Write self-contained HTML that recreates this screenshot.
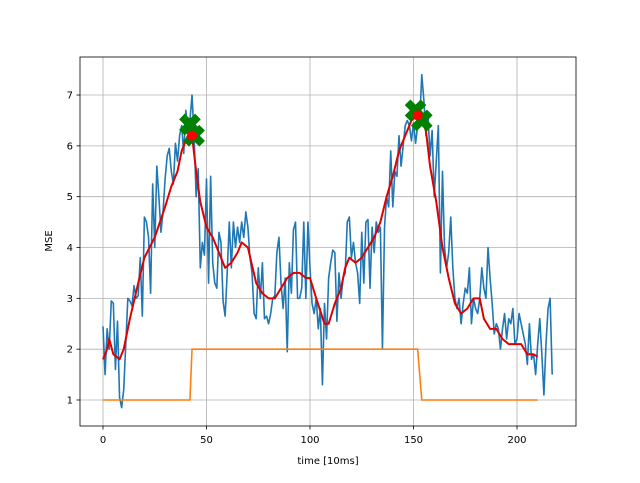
<!DOCTYPE html>
<html><head><meta charset="utf-8"><style>
body{margin:0;background:#fff;}
svg text{font-family:"DejaVu Sans","Liberation Sans",sans-serif;font-size:10px;fill:#000;}
</style></head><body>
<svg id="chart" width="640" height="478" xmlns="http://www.w3.org/2000/svg">
<rect width="640" height="478" fill="#fff"/>
<g id="grid"></g>
<g id="series"></g>
<rect x="80" y="57" width="496" height="369" fill="none" stroke="#000" stroke-width="0.8"/>
<g id="ticks"></g>
<text x="328" y="464" text-anchor="middle">time [10ms]</text>
<text transform="translate(52,241) rotate(-90)" text-anchor="middle">MSE</text>
</svg>
<script>
const blue=[2.45,1.5,2.4,2.0,2.95,2.9,1.6,2.55,1.05,0.85,
1.2,2.1,3.0,2.95,2.85,3.25,3.0,3.05,3.8,2.65,
4.6,4.5,4.2,3.1,5.25,4.0,5.6,5.0,4.3,4.7,
5.35,5.8,5.95,5.5,5.25,6.05,5.7,6.2,6.4,5.85,
6.7,6.3,6.5,7.0,6.2,5.0,5.55,3.6,4.1,3.85,
5.35,3.3,5.4,3.7,3.3,3.2,4.3,4.1,2.95,2.65,
3.5,4.5,3.6,4.5,4.0,4.4,4.1,4.5,4.2,4.7,
4.4,3.8,3.5,2.7,2.6,3.6,3.0,3.7,2.6,2.65,
2.5,2.7,3.0,3.05,3.9,4.2,3.3,2.8,3.4,1.95,
3.7,3.1,4.35,4.5,3.0,3.0,3.2,4.5,3.0,4.5,
3.6,2.9,2.7,3.0,2.4,2.8,1.3,2.9,2.2,3.4,
3.7,3.95,3.9,2.55,3.5,3.0,3.4,3.5,4.5,4.6,
3.8,4.1,3.7,3.5,2.9,4.3,3.3,4.5,4.55,3.2,
4.4,3.9,4.5,4.3,4.4,2.0,4.4,5.0,4.8,5.9,
4.8,5.5,5.4,6.2,5.6,6.0,6.4,6.5,6.4,6.1,
6.45,6.05,6.4,6.5,7.4,6.9,6.2,6.6,5.8,6.3,
5.0,5.7,6.4,3.5,5.5,4.0,3.6,3.9,4.6,3.6,
3.0,2.8,3.0,2.5,2.9,3.2,3.1,3.6,2.5,3.0,
2.8,2.7,3.0,3.6,3.2,3.0,4.0,3.4,2.9,2.3,
2.5,2.4,2.0,2.4,2.7,2.2,2.6,2.5,2.8,2.1,
2.2,2.7,2.5,2.3,2.1,1.7,2.5,1.8,1.9,1.5,
2.1,2.6,1.9,1.1,2.1,2.8,3.0,1.5];
const redX=[0,2,3,5,8,10,13,17,20,25,30,33,36,38,41,43,45,47,50,53,56,59,62,65,67,70,74,77,80,83,86,89,92,95,98,100,103,107,109,112,115,117,119,122,125,128,131,134,137,140,143,146,149,152,154,156,158,161,164,167,170,173,176,179,182,184,187,190,193,196,199,202,205,208,210];
const redY=[1.8,2.0,2.2,1.9,1.8,2.0,2.6,3.3,3.8,4.2,4.8,5.2,5.5,5.9,6.2,6.2,5.5,4.9,4.4,4.2,3.9,3.6,3.7,3.9,4.1,4.0,3.3,3.1,3.0,3.0,3.2,3.4,3.5,3.5,3.4,3.4,3.0,2.5,2.5,2.9,3.2,3.6,3.8,3.7,3.8,4.0,4.2,4.5,5.0,5.4,5.9,6.2,6.5,6.6,6.5,6.3,5.6,4.9,4.0,3.4,2.9,2.7,2.8,3.0,3.0,2.6,2.4,2.4,2.2,2.1,2.1,2.1,1.9,1.9,1.85];
const orangeX=[0,42,43,152,154,210];
const orangeY=[1,1,2,2,1,1];
const peakX=[42,44,151,154];
const peakY=[6.42,6.2,6.7,6.5];
const redPeakX=[43,152];
const redPeakY=[6.2,6.6];
const xTicks=[0,50,100,150,200];
const yTicks=[1,2,3,4,5,6,7];
const NS="http://www.w3.org/2000/svg";
const sx=v=>103+v*2.07, sy=v=>400-(v-1)*50.83;
function mk(t,parent,attrs){const e=document.createElementNS(NS,t);for(const k in attrs)e.setAttribute(k,attrs[k]);parent.appendChild(e);return e;}
const grid=document.getElementById('grid'),ticks=document.getElementById('ticks'),ser=document.getElementById('series');
xTicks.forEach(t=>{
 const l=mk('line',grid,{x1:sx(t),x2:sx(t),y1:57,y2:426,stroke:'#b0b0b0','stroke-width':0.8});
 
 
 mk('line',ticks,{x1:sx(t),x2:sx(t),y1:426,y2:429.5,stroke:'#000','stroke-width':0.8});
 const tx=mk('text',ticks,{x:sx(t),y:443,'text-anchor':'middle'});tx.textContent=t;
 
 
});
yTicks.forEach(t=>{
 const l=mk('line',grid,{x1:80,x2:576,y1:sy(t),y2:sy(t),stroke:'#b0b0b0','stroke-width':0.8});
 
 
 mk('line',ticks,{x1:76.5,x2:80,y1:sy(t),y2:sy(t),stroke:'#000','stroke-width':0.8});
 const tx=mk('text',ticks,{x:73,y:sy(t)+3.5,'text-anchor':'end'});tx.textContent=t;
 
 
});
const pts=(xs,ys)=>xs.map((x,i)=>sx(x)+','+sy(ys[i])).join(' ');
const b=mk('polyline',ser,{points:pts(blue.map((_,i)=>i),blue),fill:'none',stroke:'#1f77b4','stroke-width':1.6,'stroke-linejoin':'round'});


const o=mk('polyline',ser,{points:pts(orangeX,orangeY),fill:'none',stroke:'#ff7f0e','stroke-width':1.6});


const r=mk('polyline',ser,{points:pts(redX,redY),fill:'none',stroke:'#e00000','stroke-width':2,'stroke-linejoin':'round'});


peakX.forEach((x,i)=>{
 const cx=sx(x),cy=sy(peakY[i]),d=8;
 const g=mk('path',ser,{d:`M${cx-d},${cy-d}L${cx+d},${cy+d}M${cx+d},${cy-d}L${cx-d},${cy+d}`,stroke:'#008000','stroke-width':8});
 
 
});
redPeakX.forEach((x,i)=>{
 const c=mk('circle',ser,{cx:sx(x),cy:sy(redPeakY[i]),r:5,fill:'#ff0000'});
 
 
});
</script>
</body></html>
